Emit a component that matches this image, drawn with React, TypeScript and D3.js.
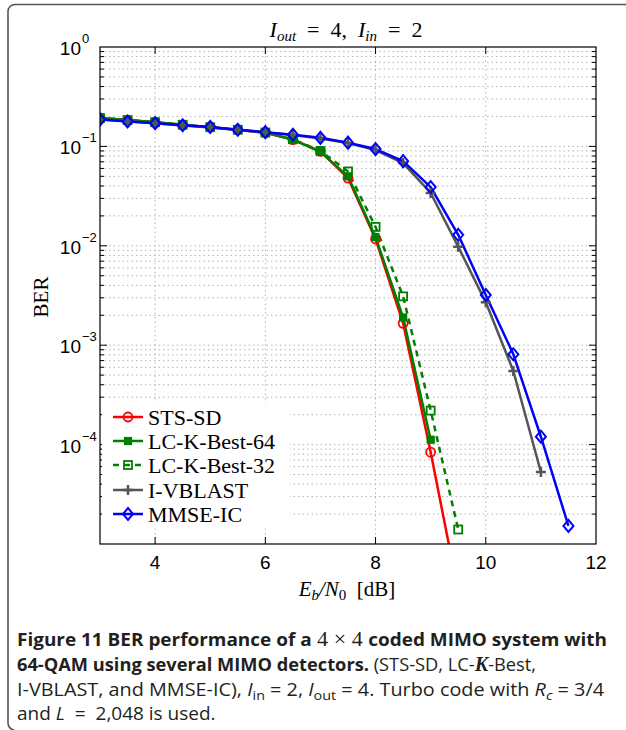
import React from 'react';
import * as d3 from 'd3';

// Eb/N0 sample points (dB)
const snr = [3, 3.5, 4, 4.5, 5, 5.5, 6, 6.5, 7, 7.5, 8, 8.5, 9, 9.5, 10, 10.5, 11, 11.5];

// BER per detector, indexed along snr
const stsSD = [0.193, 0.184, 0.175, 0.165, 0.156, 0.147, 0.137, 0.117, 0.089, 0.048, 0.0117, 0.00166, 8.4e-5, 3.3e-6];
const kBest64 = [0.193, 0.184, 0.175, 0.165, 0.156, 0.147, 0.138, 0.117, 0.088, 0.05, 0.0122, 0.0019, 1.12e-4];
const kBest32 = [0.193, 0.184, 0.175, 0.165, 0.156, 0.147, 0.138, 0.118, 0.09, 0.056, 0.0155, 0.0031, 2.2e-4, 1.4e-5];
const iVblast = [0.188, 0.179, 0.171, 0.162, 0.155, 0.146, 0.138, 0.13, 0.12, 0.108, 0.092, 0.068, 0.034, 0.0098, 0.0027, 5.5e-4, 5.3e-5];
const mmseIc = [0.186, 0.178, 0.171, 0.163, 0.157, 0.147, 0.139, 0.131, 0.122, 0.109, 0.094, 0.071, 0.039, 0.0129, 0.0032, 8.1e-4, 1.2e-4, 1.52e-5];

const seriesNames = ['STS-SD', 'LC-K-Best-64', 'LC-K-Best-32', 'I-VBLAST', 'MMSE-IC'];
const seriesValues = [stsSD, kBest64, kBest32, iVblast, mmseIc];
const seriesColors = ['#ff0000', '#007f00', '#007f00', '#555555', '#0000ff'];
const seriesDash = [null, null, '6 5', null, null];
const seriesMarkers = ['circle', 'squareFilled', 'square', 'plus', 'diamond'];

const xTicks = [4, 6, 8, 10, 12];
const yDecades = [0, -1, -2, -3, -4];

const W = 626;
const H = 730;
const plot = { left: 100, right: 596, top: 47, bottom: 544 };

const x = d3.scaleLinear().domain([3, 12]).range([plot.left, plot.right]);
const y = d3.scaleLog().domain([1e-5, 1]).range([plot.bottom, plot.top]);

function Marker({ kind, cx, cy, color }: { kind: string; cx: number; cy: number; color: string }) {
  switch (kind) {
    case 'circle':
      return <circle cx={cx} cy={cy} r={4.5} fill="none" stroke={color} strokeWidth={1.8} />;
    case 'squareFilled':
      return <rect x={cx - 3.5} y={cy - 3.5} width={7} height={7} fill={color} stroke={color} strokeWidth={1.2} />;
    case 'square':
      return <rect x={cx - 4} y={cy - 4} width={8} height={8} fill="none" stroke={color} strokeWidth={1.8} />;
    case 'plus':
      return (
        <path d={`M${cx - 5},${cy}H${cx + 5}M${cx},${cy - 5}V${cy + 5}`} stroke={color} strokeWidth={2.5} fill="none" />
      );
    case 'diamond':
      return (
        <path
          d={`M${cx},${cy - 6}L${cx + 5},${cy}L${cx},${cy + 6}L${cx - 5},${cy}Z`}
          fill="none"
          stroke={color}
          strokeWidth={2}
        />
      );
    default:
      return null;
  }
}

const NB = '\u00a0';

export default function App() {
  const line = d3
    .line<[number, number]>()
    .x((d) => x(d[0]))
    .y((d) => y(d[1]));

  // grid values: every 1..9 x 10^k inside the axis range
  const yGrid: number[] = [];
  for (let k = -5; k <= -1; k++) {
    for (let m = 1; m <= 9; m++) {
      const v = m * Math.pow(10, k);
      if (v > 1e-5 && v < 1) yGrid.push(v);
    }
  }
  const yMinor = yGrid.filter((v) => Math.abs(Math.log10(v) - Math.round(Math.log10(v))) > 1e-6);
  const yMajor = [1e-4, 1e-3, 1e-2, 1e-1];
  const xGrid = xTicks.filter((t) => t < 12);

  const sans = 'Liberation Sans, Arial, sans-serif';
  const serif = 'Liberation Serif, Times New Roman, serif';
  const capFont = 'Open Sans, Noto Sans, sans-serif';

  const legendRows = [417, 441, 465, 490, 514];

  return (
    <svg
      width={W}
      height={H}
      viewBox={`0 0 ${W} ${H}`}
      style={{ position: 'absolute', left: 0, top: 0, background: '#fff' }}
    >
      <defs>
        <clipPath id="plotClip">
          <rect x={plot.left} y={plot.top} width={plot.right - plot.left} height={plot.bottom - plot.top} />
        </clipPath>
      </defs>
      <rect x={0} y={0} width={W} height={H} fill="#fff" />

      {/* figure frame */}
      <path
        d={`M${W},4.5H15A7,7 0 0 0 8,11.5V723A7,7 0 0 0 14,730`}
        fill="none"
        stroke="#555"
        strokeWidth={1.6}
      />

      {/* grid */}
      <g stroke="#b4b4b4" strokeWidth={1} strokeDasharray="1.5 3">
        {yGrid.map((v) => (
          <line key={`gy${v}`} x1={plot.left} x2={plot.right} y1={y(v)} y2={y(v)} />
        ))}
        {xGrid.map((t) => (
          <line key={`gx${t}`} x1={x(t)} x2={x(t)} y1={plot.top} y2={plot.bottom} />
        ))}
      </g>

      {/* ticks */}
      <g stroke="#000" strokeWidth={1}>
        {yMajor.map((v) => (
          <g key={`ym${v}`}>
            <line x1={plot.left} x2={plot.left + 7} y1={y(v)} y2={y(v)} />
            <line x1={plot.right} x2={plot.right - 7} y1={y(v)} y2={y(v)} />
          </g>
        ))}
        {yMinor.map((v) => (
          <g key={`yn${v}`}>
            <line x1={plot.left} x2={plot.left + 4} y1={y(v)} y2={y(v)} />
            <line x1={plot.right} x2={plot.right - 4} y1={y(v)} y2={y(v)} />
          </g>
        ))}
        {xGrid.map((t) => (
          <g key={`xt${t}`}>
            <line x1={x(t)} x2={x(t)} y1={plot.bottom} y2={plot.bottom - 7} />
            <line x1={x(t)} x2={x(t)} y1={plot.top} y2={plot.top + 7} />
          </g>
        ))}
      </g>

      {/* series */}
      <g clipPath="url(#plotClip)">
        {seriesValues.map((vals, i) => {
          const pts: [number, number][] = vals.map((v, j) => [snr[j], v]);
          return (
            <path
              key={`s${i}`}
              d={line(pts) || ''}
              fill="none"
              stroke={seriesColors[i]}
              strokeWidth={2.5}
              strokeDasharray={seriesDash[i] || undefined}
              strokeLinejoin="round"
            />
          );
        })}
        {seriesValues.map((vals, i) =>
          vals.map((v, j) =>
            v >= 1e-5 ? (
              <Marker key={`m${i}-${j}`} kind={seriesMarkers[i]} cx={x(snr[j])} cy={y(v)} color={seriesColors[i]} />
            ) : null
          )
        )}
      </g>

      {/* axes box */}
      <rect
        x={plot.left}
        y={plot.top}
        width={plot.right - plot.left}
        height={plot.bottom - plot.top}
        fill="none"
        stroke="#000"
        strokeWidth={1.2}
      />

      {/* legend */}
      <rect x={102} y={403} width={188} height={124} fill="#fff" />
      {seriesNames.map((name, i) => {
        const ly = legendRows[i];
        return (
          <g key={`lg${i}`}>
            <line
              x1={113}
              x2={143}
              y1={ly}
              y2={ly}
              stroke={seriesColors[i]}
              strokeWidth={2.5}
              strokeDasharray={seriesDash[i] || undefined}
            />
            <Marker kind={seriesMarkers[i]} cx={128} cy={ly} color={seriesColors[i]} />
            <text x={148} y={ly + 7.5} fontFamily={serif} fontSize={22} fill="#000">
              {name}
            </text>
          </g>
        );
      })}

      {/* x tick labels */}
      {xTicks.map((t) => (
        <text key={`xl${t}`} x={x(t)} y={569} textAnchor="middle" fontFamily={sans} fontSize={19} fill="#000">
          {t}
        </text>
      ))}

      {/* y tick labels */}
      {yDecades.map((k) => (
        <g key={`yl${k}`}>
          <text x={81} y={y(Math.pow(10, k)) + 8} textAnchor="end" fontFamily={sans} fontSize={19} fill="#000">
            10
          </text>
          <text x={82} y={y(Math.pow(10, k)) - 4} fontFamily={sans} fontSize={13} fill="#000">
            {k === 0 ? '0' : `\u2212${-k}`}
          </text>
        </g>
      ))}

      {/* title */}
      <text x={346} y={37} textAnchor="middle" fontFamily={serif} fontSize={22} fill="#000">
        <tspan fontStyle="italic">I</tspan>
        <tspan fontStyle="italic" fontSize={15} dy={4}>out</tspan>
        <tspan dy={-4}>{`${NB}${NB}=${NB}${NB}4,${NB}${NB}`}</tspan>
        <tspan fontStyle="italic">I</tspan>
        <tspan fontStyle="italic" fontSize={15} dy={4}>in</tspan>
        <tspan dy={-4}>{`${NB}${NB}=${NB}${NB}2`}</tspan>
      </text>

      {/* x axis label */}
      <text x={347} y={596} textAnchor="middle" fontFamily={serif} fontSize={21} fill="#000">
        <tspan fontStyle="italic">E</tspan>
        <tspan fontStyle="italic" fontSize={15} dy={4}>b</tspan>
        <tspan dy={-4} fontStyle="italic">/N</tspan>
        <tspan fontSize={15} dy={4}>0</tspan>
        <tspan dy={-4}>{`${NB}${NB}[dB]`}</tspan>
      </text>

      {/* y axis label */}
      <text
        transform="translate(48,297) rotate(-90)"
        textAnchor="middle"
        fontFamily={serif}
        fontSize={21}
        fill="#000"
      >
        BER
      </text>

      {/* caption */}
      <g fill="#231f20" fontFamily={capFont} fontSize={18}>
        <text x={17} y={646} textLength={590} lengthAdjust="spacingAndGlyphs" fontWeight="bold">
          Figure 11 BER performance of a
          <tspan fontFamily={serif} fontWeight="normal" fontSize={21}>{`${NB}4${NB}×${NB}4${NB}`}</tspan>
          coded MIMO system with
        </text>
        <text x={17} y={671} textLength={519} lengthAdjust="spacingAndGlyphs">
          <tspan fontWeight="bold">64-QAM using several MIMO detectors.</tspan>
          <tspan> (STS-SD, LC-</tspan>
          <tspan fontFamily={serif} fontWeight="bold" fontStyle="italic" fontSize={20}>K</tspan>
          <tspan>-Best,</tspan>
        </text>
        <text x={17} y={696} textLength={587} lengthAdjust="spacingAndGlyphs">
          <tspan>I-VBLAST, and MMSE-IC), </tspan>
          <tspan fontStyle="italic">I</tspan>
          <tspan fontSize={13} dy={4}>in</tspan>
          <tspan dy={-4}>{`${NB}=${NB}2, `}</tspan>
          <tspan fontStyle="italic">I</tspan>
          <tspan fontSize={13} dy={4}>out</tspan>
          <tspan dy={-4}>{`${NB}=${NB}4. Turbo code with `}</tspan>
          <tspan fontStyle="italic">R</tspan>
          <tspan fontStyle="italic" fontSize={13} dy={4}>c</tspan>
          <tspan dy={-4}>{`${NB}=${NB}3/4`}</tspan>
        </text>
        <text x={17} y={720} fontSize={19}>
          <tspan>and </tspan>
          <tspan fontStyle="italic">L</tspan>
          <tspan>{`${NB}${NB}=${NB}${NB}2,048 is used.`}</tspan>
        </text>
      </g>
    </svg>
  );
}
